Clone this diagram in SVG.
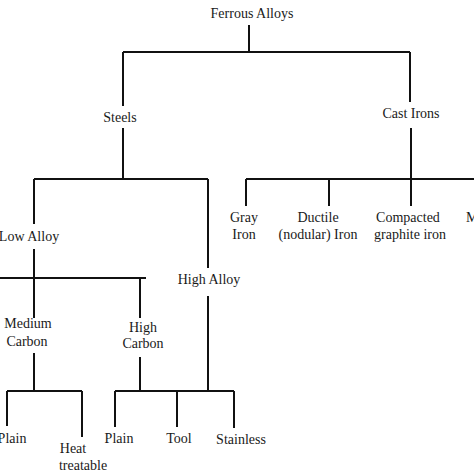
<svg xmlns="http://www.w3.org/2000/svg" width="474" height="474" viewBox="0 0 474 474">
<style>
text{font-family:"Liberation Serif","Times New Roman",serif;font-size:14px;fill:#1a1a1a;text-anchor:middle}
.c path{fill:none;stroke:#111;stroke-width:2}
</style>
<rect width="474" height="474" fill="#fff"/>
<g class="c" id="connectors">
<path d="M249 25V52M123 52H410M123 52V106M410 52V102"/>
<path d="M123 128V179M34 179H208M34 179V224M208 179V268"/>
<path d="M411 128V206M246 179H474M246 179V206M329 179V206"/>
<path d="M34 249V318M0 278H146M140 278V318"/>
<path d="M34 353V391M7 391H82M7 391V426M82 391V437"/>
<path d="M140 357V391M115 391H234M115 391V427M177 391V427M234 391V428M208 296V391"/>
</g>
<g id="ferrous"><text x="252" y="18">Ferrous Alloys</text></g>
<g id="steels"><text x="120" y="122">Steels</text></g>
<g id="castirons"><text x="411" y="118">Cast Irons</text></g>
<g id="lowalloy"><text x="29" y="241">Low Alloy</text></g>
<g id="highalloy"><text x="209" y="284">High Alloy</text></g>
<g id="gray"><text x="244" y="222">Gray</text><text x="244" y="239">Iron</text></g>
<g id="ductile"><text x="318" y="222">Ductile</text><text x="318" y="239">(nodular) Iron</text></g>
<g id="compacted"><text x="408" y="222">Compacted</text><text x="410" y="239">graphite iron</text></g>
<g id="malleable"><text x="466" y="222" style="text-anchor:start">Malleable</text></g>
<g id="mediumcarbon"><text x="28" y="328">Medium</text><text x="27" y="346">Carbon</text></g>
<g id="highcarbon"><text x="143" y="332">High</text><text x="143" y="348">Carbon</text></g>
<g id="plain1"><text x="12" y="443">Plain</text></g>
<g id="heat"><text x="73" y="453">Heat</text><text x="83" y="470">treatable</text></g>
<g id="plain2"><text x="119" y="443">Plain</text></g>
<g id="tool"><text x="179" y="443">Tool</text></g>
<g id="stainless"><text x="241" y="444">Stainless</text></g>
</svg>
